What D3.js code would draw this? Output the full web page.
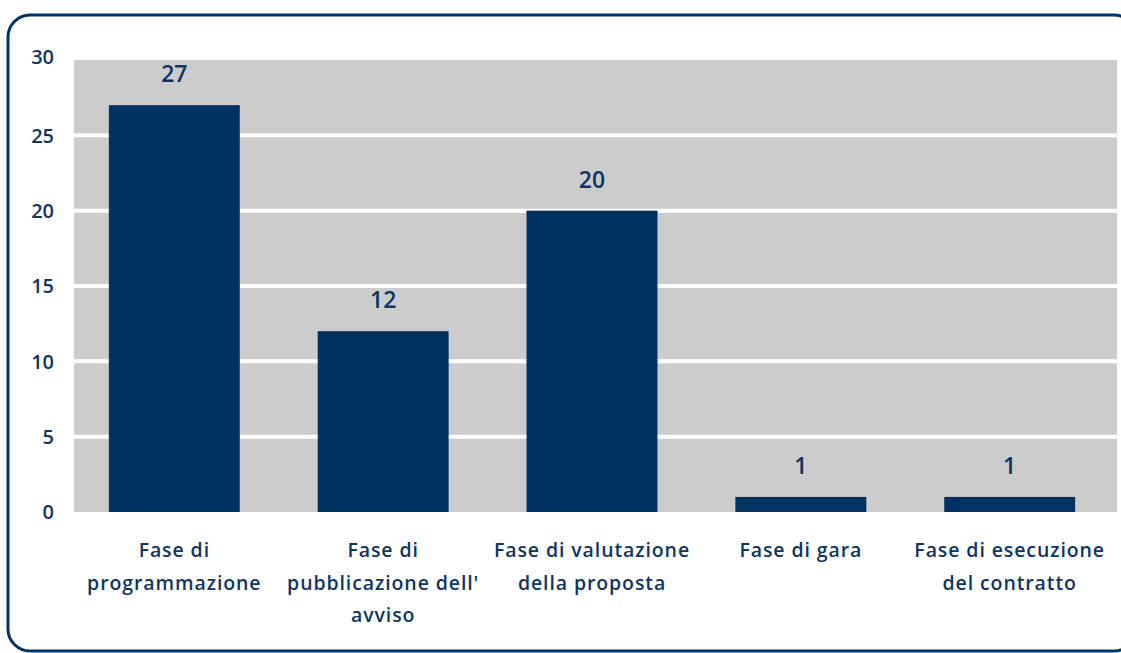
<!DOCTYPE html>
<html>
<head>
<meta charset="utf-8">
<script src="https://cdn.jsdelivr.net/npm/d3@7"></script>
<style>
  body { margin: 0; background: #fff; }
  svg { display: block; }
  text { font-family: "Open Sans", "Noto Sans", sans-serif; font-weight: 600; }
</style>
</head>
<body>
<svg></svg>
<script>
const width = 1121;
const height = 653;

const categories = [
    ['Fase di', 'programmazione'],
    ['Fase di', "pubblicazione dell'", 'avviso'],
    ['Fase di valutazione', 'della proposta'],
    ['Fase di gara'],
    ['Fase di esecuzione', 'del contratto']
];
const values = [27, 12, 20, 1, 1];
const yTicks = [0, 5, 10, 15, 20, 25, 30];

const navy = '#003262';
const textColor = '#0e3563';

const svg = d3.select('svg')
    .attr('width', width).attr('height', height);

// frame
svg.append('rect')
    .attr('x', 8).attr('y', 15)
    .attr('width', 1128).attr('height', 636)
    .attr('rx', 22).attr('ry', 22)
    .style('fill', '#fff')
    .style('stroke', '#003366')
    .style('stroke-width', 3);

const x = d3.scaleBand()
    .domain(d3.range(values.length))
    .range([70, 1114])
    .paddingInner(0.373)
    .paddingOuter(0.186);

const y = d3.scaleLinear()
    .domain([0, 30])
    .range([512, 60]);

// plot background
svg.append('rect')
    .attr('x', 74).attr('y', y(30))
    .attr('width', 1117 - 74).attr('height', y(0) - y(30))
    .style('fill', '#cccccc');

// grid lines
svg.append('g')
    .selectAll('line')
    .data(yTicks.filter(d => d > 0 && d < 30))
    .enter().append('line')
    .attr('x1', 74).attr('x2', 1117)
    .attr('y1', d => y(d)).attr('y2', d => y(d))
    .style('stroke', '#fff')
    .style('stroke-width', 4);

// y tick labels
svg.append('g')
    .selectAll('text')
    .data(yTicks)
    .enter().append('text')
    .attr('x', 54)
    .attr('y', d => y(d) - (d === 30 ? 3 : 0))
    .attr('dy', '0.36em')
    .attr('text-anchor', 'end')
    .style('font-size', '20px')
    .style('fill', textColor)
    .text(d => d);

// bars
svg.append('g')
    .selectAll('rect')
    .data(values)
    .enter().append('rect')
    .attr('x', (d, i) => x(i))
    .attr('y', d => y(d))
    .attr('width', x.bandwidth())
    .attr('height', d => y(0) - y(d))
    .style('fill', navy);

// value labels
svg.append('g')
    .selectAll('text')
    .data(values)
    .enter().append('text')
    .attr('x', (d, i) => x(i) + x.bandwidth() / 2)
    .attr('y', d => y(d) - 31)
    .attr('dy', '0.36em')
    .attr('text-anchor', 'middle')
    .style('font-size', '23px')
    .style('fill', textColor)
    .text(d => d);

// category labels
const labels = svg.append('g')
    .selectAll('text')
    .data(categories)
    .enter().append('text')
    .attr('text-anchor', 'middle')
    .style('font-size', '19.5px')
    .style('letter-spacing', '0.9px')
    .style('fill', textColor);

labels.each(function (lines, i) {
    const cx = x(i) + x.bandwidth() / 2;
    d3.select(this).selectAll('tspan')
        .data(lines)
        .enter().append('tspan')
        .attr('x', cx)
        .attr('y', (d, j) => 550 + j * 32.5)
        .attr('dy', '0.36em')
        .text(d => d);
});
</script>
</body>
</html>
